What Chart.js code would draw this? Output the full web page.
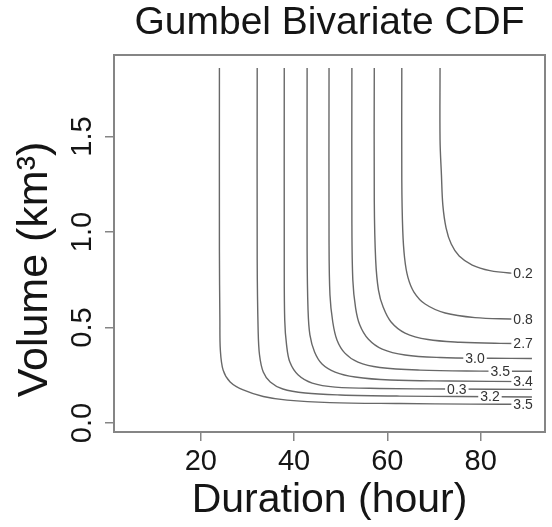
<!DOCTYPE html>
<html><head><meta charset="utf-8">
<script src="https://cdn.jsdelivr.net/npm/chart.js@4.4.0/dist/chart.umd.min.js"></script>
<style>html,body{margin:0;padding:0;background:#fff;overflow:hidden}canvas{display:block}</style>
</head><body>
<canvas id="c" width="552" height="527"></canvas>
<script>
const chartTitle = "Gumbel Bivariate CDF";
const xTitle = "Duration (hour)";
const yTitle = "Volume (km³)";
const xTicks = [20, 40, 60, 80];
const yTicks = [0.0, 0.5, 1.0, 1.5];
const yTickLabels = ["0.0", "0.5", "1.0", "1.5"];

// contour level labels, one per curve (from lowest / leftmost curve to highest)
const levelLabels = ["3.5", "3.2", "0.3", "3.4", "3.5", "3.0", "2.7", "0.8", "0.2"];
const labelDuration = [89.1, 82.0, 74.9, 89.1, 84.2, 78.8, 89.1, 89.1, 89.1];
const labelVolume = [0.100, 0.139, 0.178, 0.220, 0.272, 0.339, 0.417, 0.545, 0.785];

const c1Duration = [24.0, 24.0, 24.1, 24.2, 24.8, 26.3, 29.1, 33.4, 38.5, 47.7, 62.7, 77.7, 91.0];
const c1Volume   = [1.859, 0.906, 0.539, 0.382, 0.277, 0.215, 0.173, 0.139, 0.120, 0.107, 0.102, 0.099, 0.098];
const c2Duration = [32.1, 32.1, 32.3, 32.6, 33.4, 34.9, 37.6, 42.4, 49.9, 62.7, 75.6, 91.0];
const c2Volume   = [1.859, 0.853, 0.487, 0.356, 0.267, 0.215, 0.178, 0.157, 0.147, 0.141, 0.139, 0.136];
const c3Duration = [37.9, 37.9, 38.0, 38.4, 39.1, 40.9, 43.9, 48.8, 58.4, 73.4, 91.0];
const c3Volume   = [1.859, 0.853, 0.539, 0.408, 0.319, 0.251, 0.209, 0.188, 0.181, 0.178, 0.176];
const c4Duration = [42.8, 42.8, 43.0, 43.4, 44.4, 46.0, 48.8, 53.1, 60.6, 73.4, 91.0];
const c4Volume   = [1.859, 0.906, 0.592, 0.461, 0.372, 0.309, 0.267, 0.241, 0.225, 0.220, 0.217];
const c5Duration = [47.5, 47.5, 47.7, 48.3, 49.2, 50.9, 53.7, 58.4, 67.0, 79.9, 91.0];
const c5Volume   = [1.859, 0.958, 0.670, 0.529, 0.435, 0.366, 0.319, 0.291, 0.277, 0.272, 0.271];
const c6Duration = [52.4, 52.4, 52.6, 53.2, 54.1, 55.9, 58.9, 63.8, 71.3, 82.0, 91.0];
const c6Volume   = [1.859, 1.063, 0.749, 0.602, 0.513, 0.440, 0.387, 0.356, 0.343, 0.339, 0.338];
const c7Duration = [57.2, 57.2, 57.5, 58.1, 59.1, 60.8, 63.8, 68.7, 75.6, 84.2, 91.0];
const c7Volume   = [1.859, 1.168, 0.853, 0.696, 0.607, 0.529, 0.471, 0.437, 0.423, 0.417, 0.416];
const c8Duration = [63.1, 63.1, 63.3, 63.7, 64.4, 65.7, 68.1, 72.4, 78.8, 86.3, 91.0];
const c8Volume   = [1.859, 1.272, 1.010, 0.864, 0.764, 0.686, 0.623, 0.576, 0.552, 0.545, 0.543];
const c9Duration = [71.3, 71.3, 71.6, 71.9, 72.6, 73.7, 75.4, 78.2, 82.0, 86.5, 91.0];
const c9Volume   = [1.859, 1.482, 1.298, 1.141, 1.021, 0.937, 0.874, 0.827, 0.798, 0.785, 0.781];

const curves = [
  [c1Duration, c1Volume], [c2Duration, c2Volume], [c3Duration, c3Volume],
  [c4Duration, c4Volume], [c5Duration, c5Volume], [c6Duration, c6Volume],
  [c7Duration, c7Volume], [c8Duration, c8Volume], [c9Duration, c9Volume]
];

const FONT = "'Liberation Sans', Arial, Helvetica, sans-serif";
const TEXT = '#151515';
const AXIS = '#858585';

const datasets = curves.map(([d, v], i) => ({
  label: levelLabels[i],
  data: d.map((x, j) => ({x: x, y: v[j]})),
  showLine: true, pointRadius: 0, pointHoverRadius: 0,
  borderColor: '#686868', borderWidth: 1.4, tension: 0.35, fill: false
}));

const boxPlugin = {
  id: 'box',
  afterDraw(chart) {
    const {ctx, chartArea: a} = chart;
    ctx.save();
    ctx.strokeStyle = AXIS; ctx.lineWidth = 2;
    ctx.strokeRect(a.left, a.top, a.right - a.left, a.bottom - a.top);
    ctx.restore();
  }
};

const yTextPlugin = {
  id: 'yTexts',
  afterDraw(chart) {
    const {ctx, chartArea: a} = chart;
    const ys = chart.scales.y;
    ctx.save();
    ctx.fillStyle = TEXT;
    ctx.textAlign = 'center'; ctx.textBaseline = 'middle';
    ctx.font = `29px ${FONT}`;
    yTicks.forEach((v, i) => {
      const py = ys.getPixelForValue(v);
      ctx.save();
      ctx.translate(a.left - 31, py);
      ctx.rotate(-Math.PI / 2);
      ctx.fillText(yTickLabels[i], 0, 0);
      ctx.restore();
    });
    // axis title, placed as in the reference (slightly below the plot centre)
    ctx.font = `43px ${FONT}`;
    ctx.save();
    ctx.translate(a.left - 79, (a.top + a.bottom) / 2 + 26);
    ctx.rotate(-Math.PI / 2);
    ctx.fillText(yTitle, 0, 0);
    ctx.restore();
    ctx.restore();
  }
};

const contourLabelPlugin = {
  id: 'contourLabels',
  afterDatasetsDraw(chart) {
    const {ctx} = chart;
    const xs = chart.scales.x, ys = chart.scales.y;
    ctx.save();
    ctx.font = `14px ${FONT}`;
    ctx.textAlign = 'center'; ctx.textBaseline = 'middle';
    levelLabels.forEach((t, i) => {
      const px = xs.getPixelForValue(labelDuration[i]);
      const py = ys.getPixelForValue(labelVolume[i]);
      const w = ctx.measureText(t).width;
      ctx.fillStyle = '#ffffff';
      ctx.fillRect(px - w / 2 - 2, py - 4.5, w + 4, 9);
      ctx.fillStyle = '#333333';
      ctx.fillText(t, px, py + 1);
    });
    ctx.restore();
  }
};

new Chart(document.getElementById('c').getContext('2d'), {
  type: 'scatter',
  data: {datasets},
  options: {
    responsive: false,
    animation: false,
    events: [],
    layout: {padding: {left: 0, right: 7, top: 0, bottom: 0}},
    plugins: {
      legend: {display: false},
      tooltip: {enabled: false},
      title: {
        display: true, text: chartTitle, color: TEXT, fullSize: false,
        font: {family: FONT, size: 39, weight: 'normal', lineHeight: 1.2},
        padding: {top: 0, bottom: 8.2}
      }
    },
    scales: {
      x: {
        type: 'linear', position: 'bottom', min: 1.4, max: 93.8,
        afterBuildTicks: s => { s.ticks = xTicks.map(v => ({value: v})); },
        afterFit: s => { s.height = 95; },
        grid: {drawOnChartArea: false, drawTicks: true, tickLength: 9, color: AXIS, lineWidth: 1.5},
        border: {display: false},
        ticks: {color: TEXT, font: {family: FONT, size: 29}, padding: 4, maxRotation: 0, autoSkip: false},
        title: {display: true, text: xTitle, color: TEXT, font: {family: FONT, size: 41, lineHeight: 1.2}, padding: {top: 0, bottom: 2}}
      },
      y: {
        type: 'linear', position: 'left', min: -0.047, max: 1.927,
        afterBuildTicks: s => { s.ticks = yTicks.map(v => ({value: v})); },
        afterFit: s => { s.width = 114; },
        grid: {drawOnChartArea: false, drawTicks: true, tickLength: 9, color: AXIS, lineWidth: 1.5},
        border: {display: false},
        ticks: {display: false},
        title: {display: false, text: yTitle}
      }
    }
  },
  plugins: [boxPlugin, yTextPlugin, contourLabelPlugin]
});
</script>
</body></html>
